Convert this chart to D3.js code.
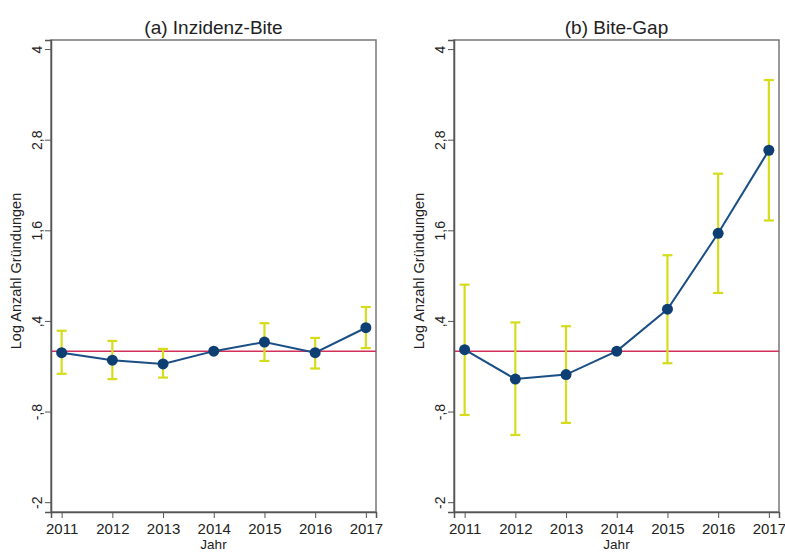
<!DOCTYPE html>
<html>
<head>
<meta charset="utf-8">
<script src="https://cdn.jsdelivr.net/npm/d3@7"></script>
<style>
  body { margin: 0; background: #fff; }
  svg { font-family: Arial, "Liberation Sans", sans-serif; }
</style>
</head>
<body>
<script>
// data
var years = [2011, 2012, 2013, 2014, 2015, 2016, 2017];
var yTicks = [-2, -0.8, 0.4, 1.6, 2.8, 4];

var titleA = "(a) Inzidenz-Bite";
var estA  = [-0.02, -0.12, -0.17, 0, 0.12, -0.02, 0.31];
var loA   = [-0.30, -0.37, -0.35, 0, -0.13, -0.23, 0.04];
var hiA   = [0.27, 0.135, 0.03, 0, 0.37, 0.175, 0.585];

var titleB = "(b) Bite-Gap";
var estB  = [0.02, -0.37, -0.31, 0, 0.555, 1.56, 2.66];
var loB   = [-0.845, -1.11, -0.95, 0, -0.16, 0.77, 1.73];
var hiB   = [0.88, 0.38, 0.33, 0, 1.27, 2.35, 3.59];

var width = 785, height = 552;
var svg = d3.select("body").append("svg")
            .attr("width", width).attr("height", height);

// german decimal comma, no leading zero (stata style)
function fmt(v) {
  var s = String(v).replace(".", ",");
  return s.replace(/^0,/, ",").replace(/^-0,/, "-,");
}

function panel(left, right, title, est, lo, hi) {
  var top = 40, bottom = 512;

  var x = d3.scaleLinear().domain([2010.79, 2017.2]).range([left, right]);
  var y = d3.scaleLinear().domain([-2.13, 4.12]).range([bottom, top]);

  var g = svg.append("g");

  // frame
  g.append("rect")
   .attr("x", left).attr("y", top)
   .attr("width", right - left).attr("height", bottom - top)
   .attr("fill", "none").attr("stroke", "#777").attr("stroke-width", 1.5);

  // reference line at zero
  g.append("line")
   .attr("x1", left).attr("x2", right)
   .attr("y1", y(0)).attr("y2", y(0))
   .attr("stroke", "#d2305a").attr("stroke-width", 1.5);

  var yAxis = d3.axisLeft(y).tickValues(yTicks).tickSize(6).tickPadding(4).tickFormat(fmt);
  var xAxis = d3.axisBottom(x).tickValues(years).tickSize(6).tickPadding(5).tickFormat(d3.format("d"));

  var ya = g.append("g").attr("transform", "translate(" + left + ",0)").call(yAxis);
  ya.attr("font-size", null).attr("font-family", null);
  ya.select(".domain").attr("stroke", "#555").attr("stroke-width", 1.5);
  ya.selectAll(".tick line").attr("stroke", "#555");
  ya.selectAll(".tick text")
    .style("font-size", "14px").attr("fill", "#222")
    .attr("x", -14).attr("y", 0).attr("dy", "0.35em")
    .attr("transform", "rotate(-90,-14,0)")
    .attr("text-anchor", "middle");

  var xa = g.append("g").attr("transform", "translate(0," + bottom + ")").call(xAxis);
  xa.attr("font-size", null).attr("font-family", null);
  xa.select(".domain").attr("stroke", "#555").attr("stroke-width", 1.5);
  xa.selectAll(".tick line").attr("stroke", "#555");
  xa.selectAll(".tick text").style("font-size", "15px").attr("fill", "#222");

  // titles
  g.append("text")
   .attr("x", (left + right) / 2).attr("y", 34)
   .attr("text-anchor", "middle").style("font-size", "19px").attr("fill", "#222")
   .text(title);

  g.append("text")
   .attr("x", (left + right) / 2).attr("y", 549)
   .attr("text-anchor", "middle").style("font-size", "13.5px").attr("fill", "#222")
   .text("Jahr");

  g.append("text")
   .attr("transform", "translate(" + (left - 30) + "," + ((top + bottom) / 2 - 5) + ") rotate(-90)")
   .attr("text-anchor", "middle").style("font-size", "14.5px").attr("fill", "#222")
   .text("Log Anzahl Gründungen");

  // error bars
  var eb = g.append("g").attr("stroke", "#d4dc1c").attr("stroke-width", 2.2);
  years.forEach(function(yr, i) {
    if (hi[i] === lo[i]) return;
    eb.append("line").attr("x1", x(yr)).attr("x2", x(yr)).attr("y1", y(lo[i])).attr("y2", y(hi[i]));
    eb.append("line").attr("x1", x(yr) - 5).attr("x2", x(yr) + 5).attr("y1", y(lo[i])).attr("y2", y(lo[i]));
    eb.append("line").attr("x1", x(yr) - 5).attr("x2", x(yr) + 5).attr("y1", y(hi[i])).attr("y2", y(hi[i]));
  });

  var line = d3.line()
               .x(function(d, i) { return x(years[i]); })
               .y(function(d) { return y(d); });

  g.append("path").attr("d", line(est))
   .attr("fill", "none").attr("stroke", "#1a4f85").attr("stroke-width", 2);

  g.selectAll("circle.pt").data(est).enter().append("circle")
   .attr("class", "pt")
   .attr("cx", function(d, i) { return x(years[i]); })
   .attr("cy", function(d) { return y(d); })
   .attr("r", 5.5).attr("fill", "#0e3f73");
}

panel(51, 376, titleA, estA, loA, hiA);
panel(454, 779, titleB, estB, loB, hiB);
</script>
</body>
</html>
